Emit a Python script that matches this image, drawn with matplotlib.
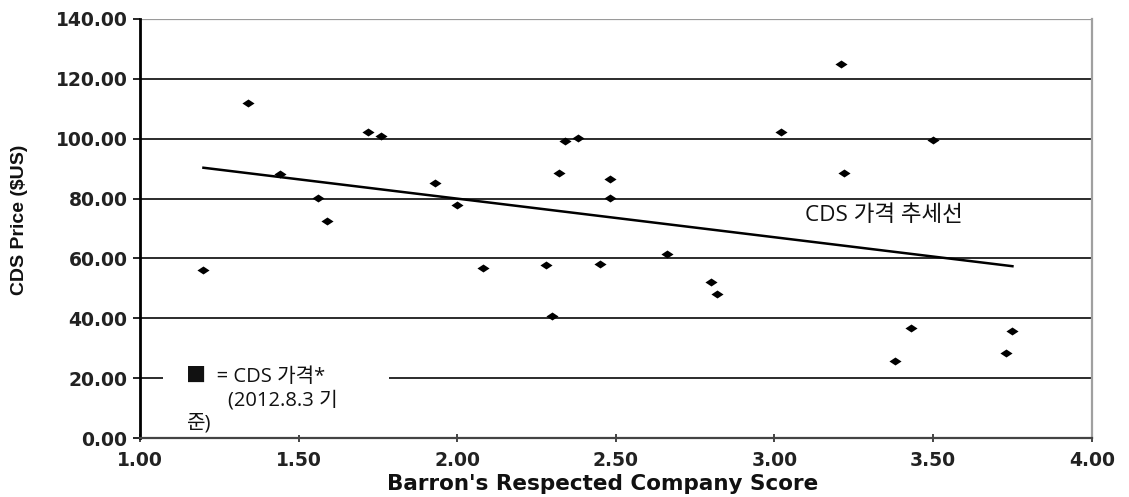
"""Scatter of CDS price against Barron's respected-company score, with a
linear trend line and a small boxed key in the lower-left corner."""

import matplotlib
matplotlib.use("Agg")
import matplotlib.pyplot as plt
from matplotlib.patches import Rectangle

# --- data --------------------------------------------------------------
score = [1.20, 1.34, 1.44, 1.56, 1.59, 1.72, 1.76, 1.93, 2.00, 2.08,
         2.28, 2.30, 2.32, 2.34, 2.38, 2.45, 2.48, 2.48, 2.66, 2.80,
         2.82, 3.02, 3.21, 3.22, 3.38, 3.43, 3.50, 3.73, 3.75]
cds_price = [56.1, 112.0, 88.2, 80.2, 72.5, 102.2, 100.8, 85.2, 77.8, 56.8,
             57.8, 40.8, 88.5, 99.3, 100.2, 58.2, 86.5, 80.3, 61.5, 52.2,
             48.2, 102.3, 124.8, 88.6, 25.8, 36.8, 99.5, 28.4, 35.8]
trend_x = [1.20, 3.75]
trend_y = [90.3, 57.4]

x_ticks = [1.0, 1.5, 2.0, 2.5, 3.0, 3.5, 4.0]
y_ticks = [0, 20, 40, 60, 80, 100, 120, 140]

KR = ["Open Sans", "Noto Sans CJK KR", "DejaVu Sans"]
INK = "#111111"

fig = plt.figure(figsize=(11.29, 4.97), dpi=100, facecolor="white")
ax = fig.add_axes([0.124, 0.1187, 0.843, 0.8431])

# horizontal grid, the top one lighter
for y in y_ticks[1:-1]:
    ax.axhline(y, color="#1a1a1a", linewidth=1.3, zorder=1)
ax.axhline(y_ticks[-1], color="#9a9a9a", linewidth=1.6, zorder=1)

# key box knocks out the 20.00 gridline
ax.add_patch(Rectangle((0.024, 0.006), 0.238, 0.19, transform=ax.transAxes,
                       facecolor="white", edgecolor="none", zorder=2))
ax.text(1.145, 12.6, "■  = CDS 가격*\n        (2012.8.3 기\n준)",
        family=KR, fontsize=14.5, color=INK, ha="left", va="center",
        linespacing=1.2, zorder=3)

diamond = [(-1, 0), (0, 0.66), (1, 0), (0, -0.66), (-1, 0)]
ax.scatter(score, cds_price, marker=diamond, s=76, color="black",
           linewidths=0, zorder=4)
ax.plot(trend_x, trend_y, color="black", linewidth=1.8, zorder=3)
ax.text(3.095, 74.3, "CDS 가격 추세선", family=KR, fontsize=16.2,
        color=INK, ha="left", va="center", zorder=3)

ax.set_xlim(1.0, 4.0)
ax.set_ylim(0, 140)
ax.set_xticks(x_ticks)
ax.set_yticks(y_ticks)
ax.set_xticklabels([f"{v:.2f}" for v in x_ticks])
ax.set_yticklabels([f"{v:.2f}" for v in y_ticks])

for lab in ax.get_xticklabels() + ax.get_yticklabels():
    lab.set_fontweight("bold")
    lab.set_fontsize(13.5)
    lab.set_color("#222222")
    lab.set_family("DejaVu Sans")

ax.spines["top"].set_visible(False)
ax.spines["left"].set_color("black")
ax.spines["left"].set_linewidth(2.0)
ax.spines["right"].set_color("#a0a0a0")
ax.spines["right"].set_linewidth(1.6)
ax.spines["bottom"].set_color("#444444")
ax.spines["bottom"].set_linewidth(1.6)
ax.tick_params(axis="y", direction="out", length=5, width=1.2, pad=4)
ax.tick_params(axis="x", direction="inout", length=6, width=1.4, pad=6,
               color="#444444")

ax.set_xlabel("Barron's Respected Company Score", fontsize=15.5,
              fontweight="bold", family="DejaVu Sans", color="#111111")
ax.xaxis.set_label_coords(0.486, -0.085)
ax.set_ylabel("CDS Price ($US)", fontsize=14, fontweight="bold",
              family=["Liberation Sans Narrow", "Liberation Sans"],
              color="#111111")
ax.yaxis.set_label_coords(-0.1176, 0.52)

fig.savefig("out.png", dpi=100, facecolor="white")
